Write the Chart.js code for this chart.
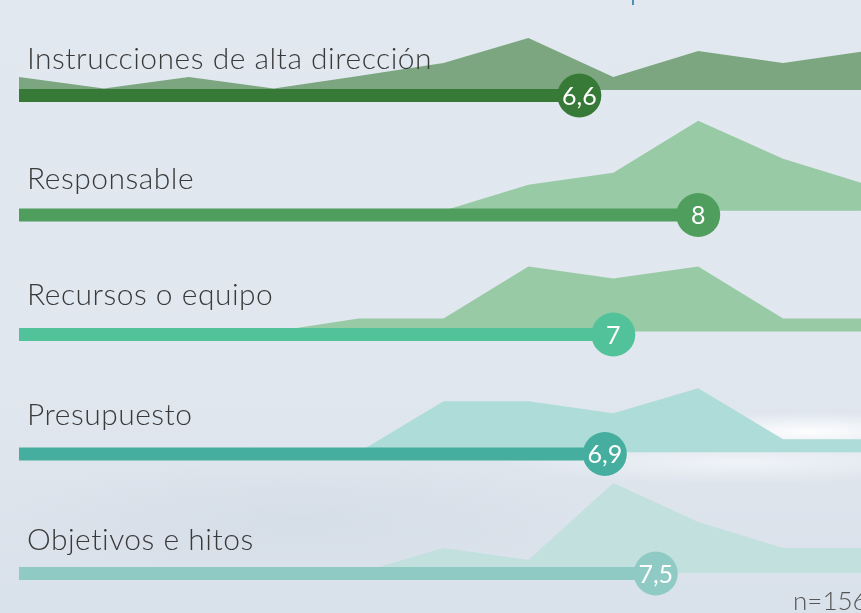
<!doctype html>
<html lang="es">
<head>
  <meta charset="utf-8">
  <title>Valoración</title>
  <script src="https://cdn.jsdelivr.net/npm/chart.js@4/dist/chart.umd.min.js"></script>
  <style>
    html, body { margin: 0; padding: 0; overflow: hidden; }
    body {
      width: 861px; height: 613px; position: relative;
      background:
        radial-gradient(ellipse 150px 20px at 810px 432px, rgba(255,255,255,0.95), rgba(255,255,255,0) 100%),
        radial-gradient(ellipse 240px 22px at 740px 462px, rgba(255,255,255,0.55), rgba(255,255,255,0) 100%),
        radial-gradient(ellipse 300px 60px at 300px 520px, rgba(200,210,222,0.35), rgba(200,210,222,0) 100%),
        linear-gradient(180deg, #e2e8f0 0%, #e1e7ef 60%, #d9e1ea 100%);
    }
    #marca { position: absolute; left: 632px; top: 0; width: 2px; height: 5px; background: #4f8fb5; }
    canvas { position: absolute; left: 0; top: 0; }
  </style>
</head>
<body>
  <div id="marca"></div>
  <canvas id="canvas" width="861" height="613"></canvas>
  <script>
    // escala de respuesta 0-10
    const puntuaciones = [0, 1, 2, 3, 4, 5, 6, 7, 8, 9, 10];
    const etiquetas = ['Instrucciones de alta dirección', 'Responsable', 'Recursos o equipo', 'Presupuesto', 'Objetivos e hitos'];
    const medias = [6.6, 8, 7, 6.9, 7.5];
    const mediasTexto = ['6,6', '8', '7', '6,9', '7,5'];
    // % de respuestas por puntuación
    const distInstrucciones = [5.4, 0.6, 5.4, 0.6, 5.8, 11.3, 21.7, 5.4, 16.3, 11.3, 16.3];
    const distResponsable = [0, 0, 0, 0, 0, 0, 10.8, 15.8, 37.5, 21.7, 10.8];
    const distRecursos = [0, 0, 0, 0, 5.4, 5.4, 27.1, 22.1, 27.1, 5.4, 5.4];
    const distPresupuesto = [0, 0, 0, 0, 0, 21.3, 21.3, 16.3, 26.7, 5.4, 5.4];
    const distObjetivos = [0, 0, 0, 0, 0, 10.4, 5.4, 37.5, 21.3, 10.4, 10.4];
    const muestra = 'n=156';

    const distribuciones = [distInstrucciones, distResponsable, distRecursos, distPresupuesto, distObjetivos];
    const coloresArea = ['#7ba67f', '#98caa5', '#98caa5', '#aedcd8', '#c1e0de'];
    const coloresBarra = ['#377a37', '#4f9e5d', '#52c29a', '#45ae9f', '#8fcbc4'];
    const baseEtiqueta = [69, 189, 305, 425, 550];

    const alto = 613;
    const pxPorUnidad = 2.4;
    const yMax = alto / pxPorUnidad;
    function basePx(i) { return 90 + i * 120.75; }
    function barraPx(i) { return 95.5 + i * 119.5; }
    function aUnidad(px) { return (alto - px) / pxPorUnidad; }

    var datasets = [];
    distribuciones.forEach(function(dist, i) {
      var base = aUnidad(basePx(i));
      datasets.push({
        data: dist.map(function(v, k) { return { x: puntuaciones[k], y: base + v }; }),
        backgroundColor: coloresArea[i],
        borderWidth: 0,
        pointRadius: 0,
        tension: 0,
        fill: { value: base },
        order: 2
      });
      var yBarra = aUnidad(barraPx(i));
      datasets.push({
        data: [{ x: 0, y: yBarra }, { x: medias[i], y: yBarra }],
        borderColor: coloresBarra[i],
        borderWidth: 13,
        borderCapStyle: 'butt',
        pointRadius: [0, 22],
        pointBackgroundColor: coloresBarra[i],
        pointBorderWidth: 0,
        fill: false,
        clip: false,
        order: 1
      });
    });

    const textos = {
      id: 'textos',
      afterDraw: function(chart) {
        var ctx = chart.ctx;
        var x = chart.scales.x, y = chart.scales.y;
        ctx.save();
        ctx.fillStyle = '#3a3a3a';
        ctx.textBaseline = 'alphabetic';
        ctx.textAlign = 'left';
        ctx.font = '300 30px Lato';
        ctx.letterSpacing = '0.5px';
        etiquetas.forEach(function(t, i) {
          ctx.fillText(t, 27, baseEtiqueta[i]);
        });
        ctx.letterSpacing = '0px';
        ctx.fillStyle = '#ffffff';
        ctx.textAlign = 'center';
        ctx.textBaseline = 'middle';
        ctx.font = '400 25px Lato';
        medias.forEach(function(m, i) {
          ctx.fillText(mediasTexto[i], x.getPixelForValue(m), barraPx(i) + 1);
        });
        ctx.fillStyle = '#555555';
        ctx.textAlign = 'left';
        ctx.textBaseline = 'alphabetic';
        ctx.font = '300 26px Lato';
        ctx.fillText(muestra, 793, 610);
        ctx.restore();
      }
    };

    var ctx = document.getElementById('canvas').getContext('2d');
    new Chart(ctx, {
      type: 'line',
      data: { datasets: datasets },
      options: {
        responsive: false,
        animation: false,
        devicePixelRatio: 1,
        layout: { autoPadding: false, padding: { left: 19, right: 0, top: 0, bottom: 0 } },
        scales: {
          x: { type: 'linear', min: 0, max: (861 - 19) / 84.9, display: false },
          y: { type: 'linear', min: 0, max: yMax, display: false }
        },
        plugins: { legend: { display: false }, tooltip: { enabled: false } }
      },
      plugins: [textos]
    });
  </script>
</body>
</html>
